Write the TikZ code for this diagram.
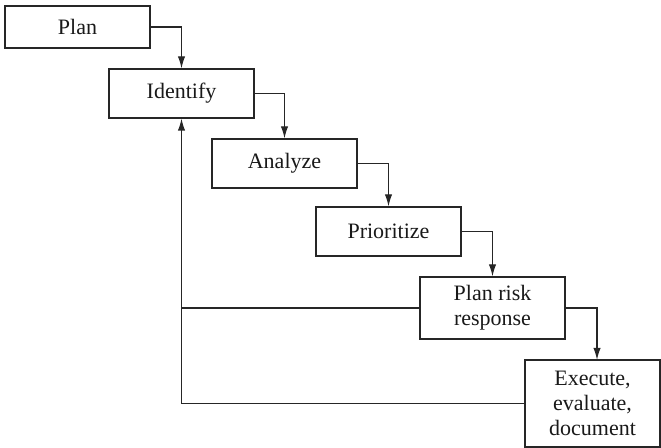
\documentclass[tikz,border=0pt]{standalone}
\usepackage{fontspec}
\setmainfont{Liberation Serif}
\usetikzlibrary{arrows.meta}
\begin{document}
\begin{tikzpicture}[x=0.75pt,y=-0.75pt,
  stepbox/.style={draw=black!85,line width=0.9pt,rectangle,minimum width=108.75pt,align=center,inner sep=0pt,
    font=\fontsize{16.5}{18.75}\selectfont,text=black!90},
  conn/.style={draw=black!85,line width=0.9pt},
  arr/.style={conn,-{Latex[length=9pt,width=5.5pt]}}]
\useasboundingbox (0,0) rectangle (661,448);
\node[stepbox,minimum height=31.5pt] (plan) at (77.5,27) {Plan};
\node[stepbox,minimum height=36.75pt] (identify) at (181.5,93.5) {Identify};
\node[stepbox,minimum height=36.75pt] (analyze) at (284.5,163.5) {Analyze};
\node[stepbox,minimum height=36.75pt] (prioritize) at (388.5,231.5) {Prioritize};
\node[stepbox,minimum height=46.5pt] (prr) at (492.5,308) {Plan risk\\response};
\node[stepbox,minimum width=101.25pt,minimum height=65.25pt] (exe) at (592.5,403.5) {Execute,\\evaluate,\\document};
\coordinate (exetop) at (597,360);
\draw[arr] (plan.east) -| (identify.north);
\draw[arr] (identify.east) -| (analyze.north);
\draw[arr] (analyze.east) -| (prioritize.north);
\draw[arr] (prioritize.east) -| (prr.north);
\draw[arr] (prr.east) -| (exetop);
\draw[arr] (exe.west) -| (identify.south);
\draw[conn] (prr.west) -- (prr.west -| identify.south);
\end{tikzpicture}
\end{document}
